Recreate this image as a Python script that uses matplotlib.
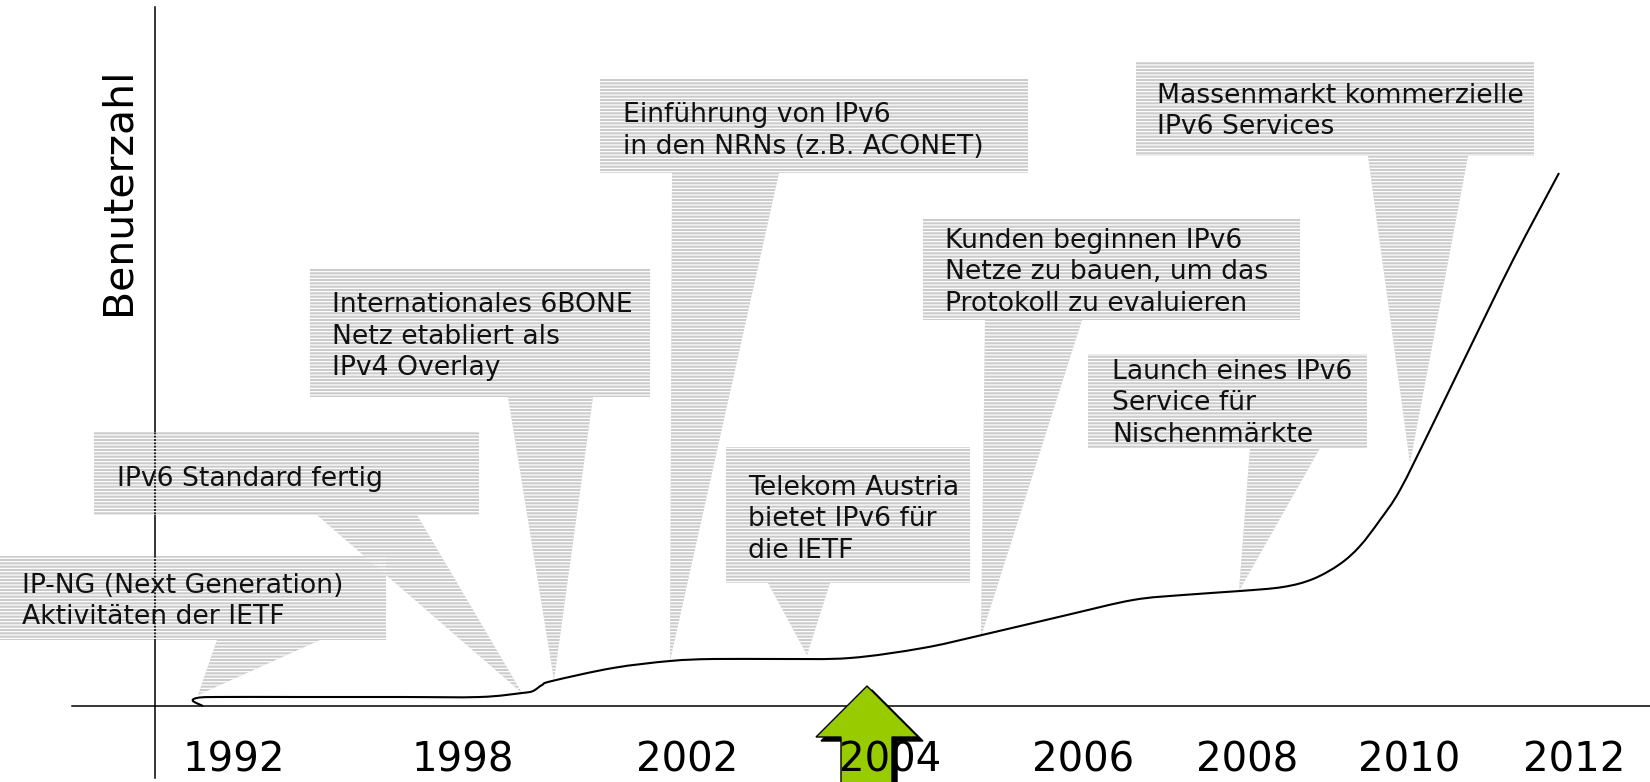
import numpy as np
import matplotlib.pyplot as plt
from matplotlib.patches import Polygon, PathPatch
from matplotlib.path import Path

plt.rcParams['font.family'] = ['DejaVu Sans']
plt.rcParams['hatch.linewidth'] = 0.9

# x-axis labels
years = ['1992', '1998', '2002', '2004', '2006', '2008', '2010', '2012']

# user curve (pixel units, y grows downward)
curve_x = [203, 193, 197, 215, 300, 400, 480, 522, 533, 542, 552, 613, 670, 713,
           780, 850, 923, 982, 1067, 1133, 1183, 1240, 1283, 1313, 1340, 1360,
           1380, 1400, 1430, 1463, 1513, 1559]
curve_y = [706, 701, 698, 697, 697, 697, 697, 693, 691, 685, 681, 668, 661, 659,
           659, 658, 648, 635, 615, 600, 595, 591, 587, 579, 564, 546,
           520, 490, 430, 362, 260, 173]

events = [
    ['IP-NG (Next Generation)', 'Aktivitäten der IETF'],
    ['IPv6 Standard fertig'],
    ['Internationales 6BONE', 'Netz etabliert als', 'IPv4 Overlay'],
    ['Einführung von IPv6', 'in den NRNs (z.B. ACONET)'],
    ['Telekom Austria', 'bietet IPv6 für', 'die IETF'],
    ['Kunden beginnen IPv6', 'Netze zu bauen, um das', 'Protokoll zu evaluieren'],
    ['Launch eines IPv6', 'Service für', 'Nischenmärkte'],
    ['Massenmarkt kommerzielle', 'IPv6 Services'],
]

# layout only: box x0,y0,x1,y1 / tail base left,right / tail tip / text x, first baseline
layout = [
    (0, 556, 386, 640, 217, 320, 198, 695, 22, 593),
    (94, 432, 479, 515, 317, 417, 522, 693, 117, 486),
    (310, 268, 650, 397, 508, 593, 554, 680, 332, 312),
    (600, 79, 1028, 173, 672, 779, 670, 661, 623, 122),
    (726, 447, 970, 583, 768, 830, 807, 655, 748, 495),
    (923, 218, 1300, 320, 985, 1082, 981, 637, 945, 248),
    (1088, 354, 1367, 448, 1250, 1320, 1239, 591, 1112, 379),
    (1136, 61, 1534, 156, 1368, 1468, 1410, 463, 1157, 103),
]
year_x = [234, 463, 687, 890, 1083, 1247, 1409, 1574]
line_step = 31.5
gray = '#cbcbcb'


def smooth_path(xs, ys):
    # Catmull-Rom through the read points, drawn as cubic Bezier segments
    p = np.column_stack([xs, ys]).astype(float)
    n = len(p)
    verts = [p[0]]
    codes = [Path.MOVETO]
    for i in range(n - 1):
        p0 = p[max(i - 1, 0)]
        p1 = p[i]
        p2 = p[i + 1]
        p3 = p[min(i + 2, n - 1)]
        verts += [p1 + (p2 - p0) / 6, p2 - (p3 - p1) / 6, p2]
        codes += [Path.CURVE4] * 3
    return Path(verts, codes)


fig = plt.figure(figsize=(16.5, 7.82), dpi=100)
ax = fig.add_axes([0, 0, 1, 1])
ax.set_xlim(0, 1650)
ax.set_ylim(782, 0)
ax.axis('off')

# axes lines
ax.plot([72, 1650], [706, 706], color='black', lw=1.1, zorder=3)
ax.plot([155, 155], [7, 778], color='black', lw=1.1, zorder=3)

# callouts
for lines, (x0, y0, x1, y1, tl, tr, px, py, tx, ty) in zip(events, layout):
    verts = [(x0, y0), (x1, y0), (x1, y1), (tr, y1), (px, py), (tl, y1), (x0, y1)]
    ax.add_patch(Polygon(verts, closed=True, facecolor=gray, edgecolor='none', zorder=2))
    ax.add_patch(Polygon(verts, closed=True, facecolor='none', edgecolor='white',
                         lw=0, hatch='-----', zorder=4))
    for i, s in enumerate(lines):
        ax.text(tx, ty + i * line_step, s, fontsize=19.2, ha='left', va='baseline',
                color='#111111', zorder=6)

# user curve
ax.add_patch(PathPatch(smooth_path(curve_x, curve_y), facecolor='none',
                       edgecolor='black', lw=1.5, zorder=5))

# green arrow for 2004
arrow = [(867, 686), (918, 737), (892, 737), (892, 800), (841, 800), (841, 737), (816, 737)]
shadow = [(x + 5, y + 4) for x, y in arrow]
ax.add_patch(Polygon(shadow, closed=True, facecolor='black', edgecolor='black', lw=1, zorder=7))
ax.add_patch(Polygon(arrow, closed=True, facecolor='#99cc00', edgecolor='black', lw=1, zorder=8))

# year labels
for x, y in zip(year_x, years):
    ax.text(x, 772, y, fontsize=29, ha='center', va='baseline', color='black', zorder=9)

ax.text(118, 191, 'Benuterzahl', fontsize=29.5, rotation=90, ha='center', va='center')

fig.savefig('out.png', dpi=100)
